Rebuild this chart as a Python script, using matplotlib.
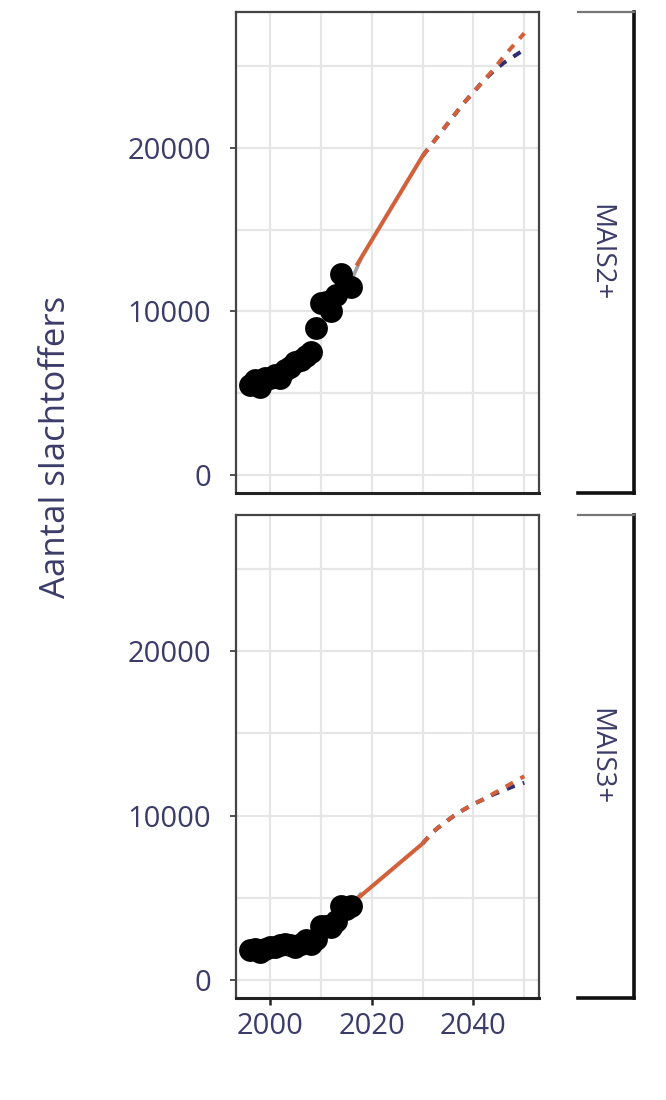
"""
Aantal slachtoffers per MAIS-niveau: waarnemingen en prognose.
"""

import matplotlib
matplotlib.use("Agg")
import matplotlib.pyplot as plt
from matplotlib.ticker import MultipleLocator


# waarnemingen
years = list(range(1996, 2017))

mais2 = [5500, 5800, 5400, 5900, 5900, 6100, 5900, 6400, 6600, 6900, 7000,
         7300, 7500, 9000, 10500, 10600, 10000, 11000, 12300, 11600, 11500]

mais3 = [1800, 1900, 1700, 1900, 2000, 2000, 2100, 2200, 2100, 2000, 2200,
         2400, 2200, 2500, 3300, 3300, 3200, 3600, 4500, 4300, 4500]

# overgang (grijs) en trend tot 2030
link_years = [2016, 2018]
link_mais2 = [11900, 13300]
link_mais3 = [4600, 5300]

trend_years = [2017, 2030]
trend_mais2 = [12800, 19500]
trend_mais3 = [4900, 8300]

# prognose 2030-2050 (twee scenario's)
proj_years = [2030, 2032, 2034, 2036, 2038, 2040, 2042, 2044, 2046, 2048, 2050]
proj_mais2_a = [19500, 20300, 21100, 21900, 22700, 23400, 24100, 24800,
                25600, 26300, 27000]
proj_mais2_b = [19500, 20300, 21100, 21900, 22700, 23400, 24100, 24700,
                25200, 25600, 26000]
proj_mais3_a = [8300, 9000, 9500, 9950, 10350, 10700, 11000, 11350,
                11700, 12050, 12400]
proj_mais3_b = [8300, 9000, 9500, 9950, 10350, 10700, 11000, 11300,
                11550, 11800, 12000]

panels = ["MAIS2+", "MAIS3+"]

TXT = "#3c3c6a"
ORANGE = "#d2603a"
NAVY = "#2d2f6e"
GRID = "#e6e6e6"

plt.rcParams["font.family"] = ["Open Sans", "DejaVu Sans"]

fig = plt.figure(figsize=(6.66, 11), dpi=100)

W, H = 666.0, 1100.0
boxes = [(12, 493), (515, 998)]

data = [
    (mais2, link_mais2, trend_mais2, proj_mais2_a, proj_mais2_b),
    (mais3, link_mais3, trend_mais3, proj_mais3_a, proj_mais3_b),
]

for i, (top, bot) in enumerate(boxes):
    ax = fig.add_axes([236 / W, 1 - bot / H, (539 - 236) / W, (bot - top) / H])
    pts, link, trend, pa, pb = data[i]

    ax.plot(link_years, link, color="#a0a0a0", lw=2.6, zorder=3,
            solid_capstyle="butt")
    ax.plot(trend_years, trend, color=ORANGE, lw=2.9, zorder=4,
            solid_capstyle="butt")
    ax.plot(proj_years, pb, color=NAVY, lw=2.9, zorder=4,
            dashes=(2.1, 2.1))
    ax.plot(proj_years, pa, color=ORANGE, lw=2.9, zorder=5,
            dashes=(2.1, 2.1))
    ax.scatter(years, pts, s=270, color="black", zorder=6, linewidths=0)

    ax.set_xlim(1993.3, 2052.9)
    ax.set_ylim(-1100, 28300)

    ax.xaxis.set_major_locator(MultipleLocator(20))
    ax.xaxis.set_minor_locator(MultipleLocator(10))
    ax.yaxis.set_major_locator(MultipleLocator(10000))
    ax.yaxis.set_minor_locator(MultipleLocator(5000))
    ax.grid(True, which="both", color=GRID, lw=1.6)
    ax.set_axisbelow(True)

    ax.tick_params(which="minor", length=0)
    ax.tick_params(axis="y", which="major", length=4, width=1.2,
                   color="#333333", labelsize=21, labelcolor=TXT, pad=14)
    ax.tick_params(axis="x", which="major", length=5, width=1.8,
                   color="#222222", labelsize=21, labelcolor=TXT, pad=5)
    if i == 0:
        ax.tick_params(axis="x", labelbottom=False, length=0)

    for side, sp in ax.spines.items():
        sp.set_color("#444444")
        sp.set_linewidth(1.6)
    ax.spines["bottom"].set_color("#222222")
    ax.spines["bottom"].set_linewidth(2.2)

    # strip aan de rechterkant
    sx = fig.add_axes([578 / W, 1 - bot / H, (634 - 578) / W, (bot - top) / H])
    sx.set_xticks([])
    sx.set_yticks([])
    sx.patch.set_alpha(0)
    sx.spines["left"].set_visible(False)
    sx.spines["top"].set_color("#777777")
    sx.spines["top"].set_linewidth(1.6)
    sx.spines["right"].set_color("#111111")
    sx.spines["right"].set_linewidth(2.6)
    sx.spines["bottom"].set_color("#111111")
    sx.spines["bottom"].set_linewidth(2.6)
    sx.text(0.4, 0.5, panels[i], rotation=270, ha="center", va="center",
            fontsize=20, color=TXT, transform=sx.transAxes)

fig.text(56 / W, 1 - 447 / H, "Aantal slachtoffers", rotation=90,
         ha="center", va="center", fontsize=25, color=TXT)

fig.savefig("out.png", dpi=100)
